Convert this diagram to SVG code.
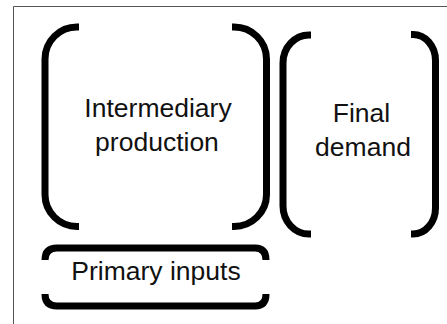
<svg xmlns="http://www.w3.org/2000/svg" width="447" height="324" viewBox="0 0 447 324">
<style>
.br{fill:none;stroke:#000;stroke-width:7;stroke-linecap:butt;stroke-linejoin:round}
.lbl{font-family:"Liberation Sans",Arial,sans-serif;font-size:26.5px;fill:#111;text-anchor:middle}
.frame{fill:none;stroke:#555;stroke-width:1}
</style>
<rect width="447" height="324" fill="#fff"/>
<path class="frame" d="M13.5,324 V6.5 H447"/>
<g id="intermediary">
<path class="br" d="M79,27 H77 A32,32 0 0 0 45,59 V194.5 A32,32 0 0 0 77,226.5 H79"/>
<path class="br" d="M232,27 H234 A32.5,32 0 0 1 266.5,59 V194.5 A32.5,32 0 0 1 234,226.5 H232"/>
<text class="lbl" x="158" y="117">Intermediary</text>
<text class="lbl" x="157" y="151">production</text>
</g>
<g id="final">
<path class="br" d="M311,35 H309 A26,28 0 0 0 283,63 V206 A26,28 0 0 0 309,234 H311"/>
<path class="br" d="M411,34.5 H413 A22.5,26 0 0 1 435.5,60.5 V208 A22.5,26 0 0 1 413,234 H411"/>
<text class="lbl" x="361.5" y="122">Final</text>
<text class="lbl" x="363" y="156">demand</text>
</g>
<g id="primary">
<path class="br" d="M45,260 Q45,248 57,248 H255 Q266,248 266,260"/>
<path class="br" d="M45,294 Q45,306 57,306 H255 Q266,306 266,294"/>
<text class="lbl" x="156" y="280">Primary inputs</text>
</g>
</svg>
